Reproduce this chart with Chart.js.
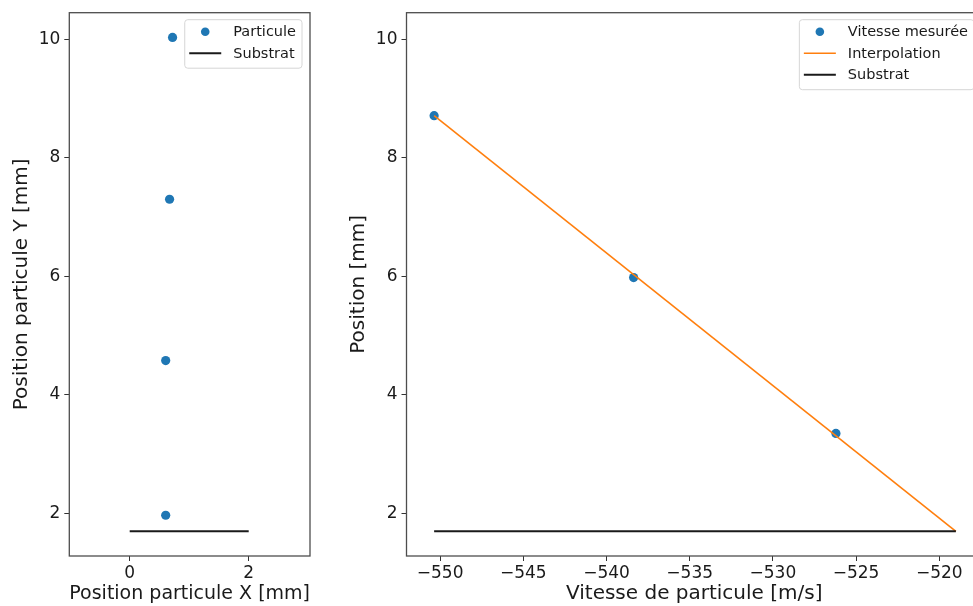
<!DOCTYPE html>
<html>
<head>
<meta charset="utf-8">
<script src="https://cdn.jsdelivr.net/npm/chart.js@4.4.0/dist/chart.umd.min.js"></script>
<style>
  html, body { margin: 0; padding: 0; background: #fff; overflow: hidden; width: 973px; height: 606px; }
  #left { position: absolute; left: 0; top: 0; }
  #right { position: absolute; left: 330px; top: 0; }
</style>
</head>
<body>
<canvas id="left" width="330" height="606"></canvas>
<canvas id="right" width="660" height="606"></canvas>
<script>
// Left plot: particle positions
const particuleX = [0.72, 0.67, 0.605, 0.605];
const particuleY = [10.03, 7.30, 4.58, 1.97];
const substratX = [0, 2];
const substratY = [1.7, 1.7];

// Right plot: measured speed vs position
const vitesse = [-550.36, -538.37, -526.21];
const positionMesuree = [8.71, 5.98, 3.35];
const interpVitesse = [-550.36, -519.0];
const interpPosition = [8.71, 1.7];
const substratVitesse = [-550.36, -519.0];
const substratPosition = [1.7, 1.7];

const yTicks = [2, 4, 6, 8, 10];

Chart.defaults.font.family = '"DejaVu Sans", sans-serif';
Chart.defaults.color = '#1a1a1a';

const toPoints = (xs, ys) => xs.map((x, i) => ({ x: x, y: ys[i] }));
const minus = v => String(v).replace('-', '\u2212');

// frame around the axes (all four spines)
const frame = {
  id: 'frame',
  afterDatasetsDraw(chart) {
    const a = chart.chartArea, ctx = chart.ctx;
    ctx.save();
    ctx.strokeStyle = '#4d4d4d';
    ctx.lineWidth = 1.3;
    ctx.strokeRect(a.left, a.top, a.right - a.left, a.bottom - a.top);
    ctx.restore();
  }
};

// matplotlib-like legend box in the upper right
const boxLegend = {
  id: 'boxLegend',
  afterDraw(chart) {
    const ctx = chart.ctx, area = chart.chartArea;
    const items = chart.data.datasets;
    ctx.save();
    ctx.font = '14.5px "DejaVu Sans"';
    const textW = Math.max(...items.map(d => ctx.measureText(d.label).width));
    const w = 48.5 + textW + 6;
    const rowH = 21.5;
    const h = 12 + rowH * (items.length - 1) + 15;
    const x = area.right - 8 - w, y = area.top + 7;
    ctx.beginPath();
    ctx.roundRect(x, y, w, h, 3);
    ctx.fillStyle = 'rgba(255,255,255,0.8)';
    ctx.fill();
    ctx.strokeStyle = '#d6d6d6';
    ctx.lineWidth = 1;
    ctx.stroke();
    items.forEach((d, i) => {
      const cy = y + 12 + i * rowH;
      if (d.showLine) {
        ctx.beginPath();
        ctx.moveTo(x + 4.5, cy);
        ctx.lineTo(x + 36.5, cy);
        ctx.strokeStyle = d.borderColor;
        ctx.lineWidth = d.borderWidth;
        ctx.stroke();
      } else {
        ctx.beginPath();
        ctx.arc(x + 20.5, cy, 4.3, 0, Math.PI * 2);
        ctx.fillStyle = d.backgroundColor;
        ctx.fill();
      }
      ctx.fillStyle = '#1a1a1a';
      ctx.textBaseline = 'middle';
      ctx.fillText(d.label, x + 48.5, cy + 1);
    });
    ctx.restore();
  }
};

function axes(xMin, xMax, xStep, yWidth, yTitlePad, xTitle, yTitle) {
  const tickGrid = { drawOnChartArea: false, drawTicks: true, tickLength: 5, color: '#333', lineWidth: 1 };
  return {
    x: {
      type: 'linear',
      min: xMin, max: xMax,
      grid: tickGrid,
      border: { display: false },
      ticks: { includeBounds: false, stepSize: xStep, padding: 2, font: { size: 17 }, callback: minus },
      title: { display: true, text: xTitle, font: { size: 20 }, padding: 0 },
      afterFit(s) { s.height = 50; s.paddingLeft = 0; s.paddingRight = 0; }
    },
    y: {
      type: 'linear',
      min: 1.283, max: 10.447,
      grid: tickGrid,
      border: { display: false },
      afterBuildTicks(s) { s.ticks = yTicks.map(v => ({ value: v })); },
      ticks: { padding: 4, font: { size: 17 } },
      title: { display: true, text: yTitle, font: { size: 20 }, padding: { top: yTitlePad } },
      afterFit(s) { s.width = yWidth; s.paddingTop = 0; s.paddingBottom = 0; }
    }
  };
}

new Chart(document.getElementById('left'), {
  type: 'scatter',
  data: {
    datasets: [
      {
        label: 'Particule',
        data: toPoints(particuleX, particuleY),
        backgroundColor: '#1f77b4', borderColor: '#1f77b4',
        pointRadius: 4.6, borderWidth: 0, showLine: false, order: 2
      },
      {
        label: 'Substrat',
        data: toPoints(substratX, substratY),
        borderColor: '#1a1a1a', backgroundColor: '#1a1a1a',
        borderWidth: 2, pointRadius: 0, showLine: true, order: 1
      }
    ]
  },
  options: {
    responsive: false,
    animation: false,
    layout: { autoPadding: false, padding: { left: 0, top: 12.7, right: 20, bottom: 0 } },
    plugins: { legend: { display: false }, tooltip: { enabled: false } },
    scales: axes(-1.015, 3.03, 2, 69.3, 10, 'Position particule X [mm]', 'Position particule Y [mm]')
  },
  plugins: [frame, boxLegend]
});

new Chart(document.getElementById('right'), {
  type: 'scatter',
  data: {
    datasets: [
      {
        label: 'Vitesse mesurée',
        data: toPoints(vitesse, positionMesuree),
        backgroundColor: '#1f77b4', borderColor: '#1f77b4',
        pointRadius: 4.6, borderWidth: 0, showLine: false, order: 3
      },
      {
        label: 'Interpolation',
        data: toPoints(interpVitesse, interpPosition),
        borderColor: '#ff7f0e', backgroundColor: '#ff7f0e',
        borderWidth: 1.6, pointRadius: 0, showLine: true, order: 2
      },
      {
        label: 'Substrat',
        data: toPoints(substratVitesse, substratPosition),
        borderColor: '#1a1a1a', backgroundColor: '#1a1a1a',
        borderWidth: 2, pointRadius: 0, showLine: true, order: 1
      }
    ]
  },
  options: {
    responsive: false,
    animation: false,
    layout: { autoPadding: false, padding: { left: 0, top: 12.7, right: 8, bottom: 0 } },
    plugins: { legend: { display: false }, tooltip: { enabled: false } },
    scales: axes(-552.02, -517.43, 5, 76.5, 17, 'Vitesse de particule [m/s]', 'Position [mm]')
  },
  plugins: [frame, boxLegend]
});
</script>
</body>
</html>
